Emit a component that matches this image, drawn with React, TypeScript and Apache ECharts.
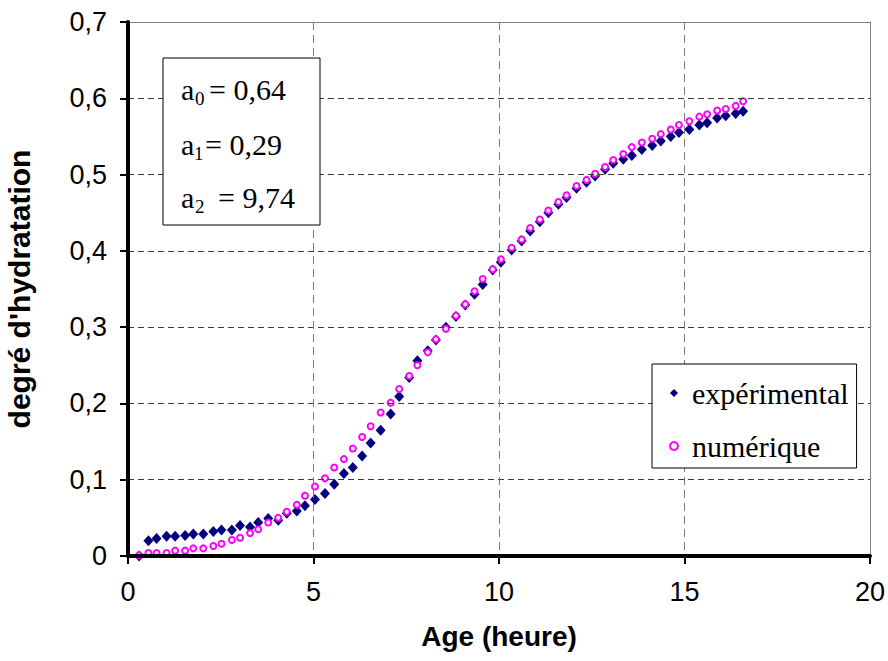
import React, { useEffect, useRef } from 'react';
import * as echarts from 'echarts';

const hours = [
  0.3, 0.55, 0.77, 1.04, 1.27, 1.54, 1.76, 2.03, 2.3, 2.52,
  2.8, 3.02, 3.29, 3.51, 3.78, 4.05, 4.28, 4.55, 4.77, 5.04,
  5.31, 5.56, 5.82, 6.06, 6.31, 6.54, 6.81, 7.08, 7.31, 7.58,
  7.8, 8.08, 8.3, 8.57, 8.84, 9.09, 9.34, 9.56, 9.83, 10.05,
  10.34, 10.61, 10.84, 11.1, 11.33, 11.6, 11.82, 12.09, 12.36, 12.59,
  12.86, 13.08, 13.35, 13.58, 13.85, 14.13, 14.36, 14.63, 14.85, 15.13,
  15.4, 15.61, 15.88, 16.11, 16.38, 16.58,
];

const experimental = [
  0.0, 0.02, 0.023, 0.026, 0.026, 0.027, 0.029, 0.029, 0.032, 0.034,
  0.034, 0.04, 0.038, 0.044, 0.049, 0.047, 0.056, 0.059, 0.066, 0.074,
  0.082, 0.094, 0.108, 0.116, 0.131, 0.148, 0.165, 0.186, 0.209, 0.234,
  0.256, 0.269, 0.283, 0.3, 0.314, 0.329, 0.343, 0.356, 0.375, 0.385,
  0.401, 0.413, 0.426, 0.438, 0.45, 0.461, 0.47, 0.482, 0.49, 0.498,
  0.507, 0.515, 0.52, 0.525, 0.533, 0.538, 0.544, 0.55, 0.555, 0.559,
  0.565, 0.568, 0.574, 0.577, 0.58, 0.583,
];

const numerique = [
  0.001, 0.004, 0.004, 0.004, 0.007, 0.007, 0.01, 0.01, 0.013, 0.016,
  0.021, 0.024, 0.03, 0.035, 0.044, 0.05, 0.058, 0.067, 0.079, 0.091,
  0.102, 0.116, 0.127, 0.141, 0.156, 0.17, 0.188, 0.201, 0.219, 0.236,
  0.25, 0.267, 0.284, 0.298, 0.315, 0.33, 0.347, 0.363, 0.376, 0.389,
  0.404, 0.415, 0.43, 0.441, 0.453, 0.464, 0.473, 0.485, 0.493, 0.501,
  0.51, 0.519, 0.527, 0.536, 0.542, 0.547, 0.553, 0.559, 0.565, 0.57,
  0.576, 0.579, 0.584, 0.586, 0.59, 0.596,
];

const seriesNames = ['expérimental', 'numérique'];
const xTickLabels = ['0', '5', '10', '15', '20'];
const yTickLabels = ['0', '0,1', '0,2', '0,3', '0,4', '0,5', '0,6', '0,7'];
const xAxisTitle = 'Age (heure)';
const yAxisTitle = "degré d'hydratation";
const paramSubs = ['0', '1', '2'];
const paramValues = ['= 0,64', '= 0,29', '= 9,74'];

const SERIF = '"Liberation Serif", "Times New Roman", serif';
const SANS = '"Liberation Sans", Arial, sans-serif';

export default function App() {
  const ref = useRef<HTMLDivElement>(null);

  useEffect(() => {
    if (!ref.current) return;
    const chart = echarts.init(ref.current, null, { renderer: 'svg' });

    const lineY = [89, 144, 197.5];
    const subY = [98, 153, 206];
    const subX = [195, 194, 195];
    const valX = [209, 205, 218];
    const paramGraphics: any[] = [
      {
        type: 'rect',
        shape: { x: 163, y: 58, width: 157, height: 167 },
        style: { fill: '#fff', stroke: '#000', lineWidth: 1 },
        z: 10,
      },
    ];
    paramSubs.forEach((s, i) => {
      paramGraphics.push({
        type: 'text', x: 181, y: lineY[i], z: 11,
        style: { text: 'a', font: `30px ${SERIF}`, fill: '#000', verticalAlign: 'middle', align: 'left' },
      });
      paramGraphics.push({
        type: 'text', x: subX[i], y: subY[i], z: 11,
        style: { text: s, font: `19px ${SERIF}`, fill: '#000', verticalAlign: 'middle', align: 'left' },
      });
      paramGraphics.push({
        type: 'text', x: valX[i], y: lineY[i], z: 11,
        style: { text: paramValues[i], font: `30px ${SERIF}`, fill: '#000', verticalAlign: 'middle', align: 'left' },
      });
    });

    const frameAxis = {
      show: true,
      axisLine: { show: true, onZero: false, lineStyle: { color: '#808080', width: 1 } },
      axisTick: { show: false },
      axisLabel: { show: false },
      splitLine: { show: false },
    };

    chart.setOption({
      animation: false,
      backgroundColor: '#fff',
      grid: { left: 128, right: 18, top: 22, bottom: 105, containLabel: false, outerBoundsMode: 'none' },
      legend: {
        data: seriesNames,
        orient: 'vertical',
        left: 652, top: 364,
        backgroundColor: '#fff',
        borderColor: '#000', borderWidth: 1,
        padding: [14, 8, 7, 17],
        itemGap: 23,
        itemWidth: 8, itemHeight: 8,
        textStyle: { fontFamily: SERIF, fontSize: 30, color: '#000', padding: [0, 0, 0, 9] },
        z: 10,
      },
      xAxis: [
        {
          type: 'value', min: 0, max: 20, interval: 5,
          name: xAxisTitle, nameLocation: 'middle', nameGap: 66,
          nameTextStyle: { fontFamily: SANS, fontSize: 28, fontWeight: 'bold', color: '#000' },
          axisLine: { show: true, onZero: false, lineStyle: { color: '#000', width: 4 } },
          axisTick: { show: true, inside: false, length: 8, lineStyle: { color: '#000', width: 2 } },
          axisLabel: {
            margin: 22, fontFamily: SANS, fontSize: 27, color: '#000',
            formatter: (v: number) => xTickLabels[Math.round(v / 5)] ?? '',
          },
          splitLine: {
            show: true, showMinLine: false, showMaxLine: false,
            lineStyle: { color: '#7a7a7a', type: [8, 5], width: 1 },
          },
          z: 5,
        },
        { type: 'value', min: 0, max: 20, interval: 5, position: 'top', ...frameAxis, z: 1 },
      ],
      yAxis: [
        {
          type: 'value', min: 0, max: 0.7, interval: 0.1,
          name: yAxisTitle, nameLocation: 'middle', nameGap: 94, nameRotate: 90,
          nameTextStyle: { fontFamily: SANS, fontSize: 30, fontWeight: 'bold', color: '#000' },
          axisLine: { show: true, onZero: false, lineStyle: { color: '#000', width: 4 } },
          axisTick: { show: true, inside: false, length: 8, lineStyle: { color: '#000', width: 2 } },
          axisLabel: {
            margin: 21, fontFamily: SANS, fontSize: 27, color: '#000',
            formatter: (v: number) => yTickLabels[Math.round(v * 10)] ?? '',
          },
          splitLine: {
            show: true, showMinLine: false, showMaxLine: false,
            lineStyle: { color: '#3a3a3a', type: [6, 4], width: 1 },
          },
          z: 5,
        },
        { type: 'value', min: 0, max: 0.7, interval: 0.1, position: 'right', ...frameAxis, z: 1 },
      ],
      series: [
        {
          name: seriesNames[0],
          type: 'scatter',
          symbol: 'diamond',
          symbolSize: [10, 11],
          itemStyle: { color: '#000080', opacity: 1 },
          data: hours.map((h, i) => [h, experimental[i]]),
          z: 3,
        },
        {
          name: seriesNames[1],
          type: 'scatter',
          symbol: 'emptyCircle',
          symbolSize: 6,
          itemStyle: { color: '#ff00ff', borderColor: '#ff00ff', borderWidth: 2, opacity: 1 },
          data: hours.map((h, i) => [h, numerique[i]]),
          z: 4,
        },
      ],
      graphic: paramGraphics,
    });

    return () => chart.dispose();
  }, []);

  return (
    <div
      ref={ref}
      style={{ position: 'fixed', left: 0, top: 0, width: 888, height: 661, background: '#fff' }}
    />
  );
}
